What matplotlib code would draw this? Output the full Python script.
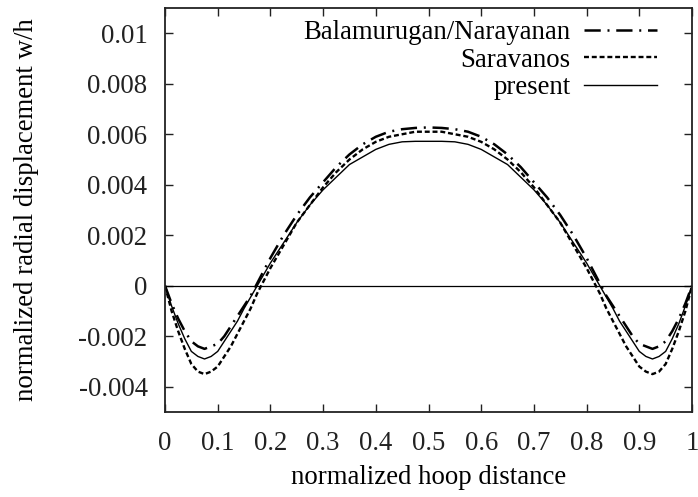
import matplotlib
matplotlib.use("Agg")
import matplotlib.pyplot as plt

plt.rcParams['font.family'] = ['Liberation Serif', 'DejaVu Serif']
plt.rcParams['axes.unicode_minus'] = False

s = [0.0, 0.0125, 0.025, 0.0375, 0.05, 0.0625, 0.075, 0.0875, 0.1, 0.1125, 0.125, 0.1375, 0.15,
     0.1625, 0.175, 0.1875, 0.2, 0.225, 0.25, 0.275, 0.3, 0.325, 0.35, 0.375, 0.4, 0.425, 0.45,
     0.475, 0.5,
     0.525, 0.55, 0.575, 0.6, 0.625, 0.65, 0.675, 0.7, 0.725, 0.75, 0.775, 0.8, 0.8125, 0.825,
     0.8375, 0.85, 0.8625, 0.875, 0.8875, 0.9, 0.9125, 0.925, 0.9375, 0.95, 0.9625, 0.975,
     0.9875, 1.0]

balamurugan = [0.0, -0.0007, -0.0013, -0.0018, -0.0022, -0.0024, -0.0025, -0.0024, -0.0023, -0.0020,
               -0.0016, -0.0012, -0.0008, -0.0004, 0.0001, 0.0006, 0.0011, 0.0020, 0.0028, 0.0035,
               0.0041, 0.0047, 0.0052, 0.0056, 0.0059, 0.0061, 0.0062, 0.00625, 0.00627,
               0.00625, 0.0062, 0.0061, 0.0059, 0.0056, 0.0052, 0.0047, 0.0041, 0.0035, 0.0028,
               0.0020, 0.0011, 0.0006, 0.0001, -0.0004, -0.0008, -0.0012, -0.0016, -0.0020, -0.0023,
               -0.0024, -0.0025, -0.0024, -0.0022, -0.0018, -0.0013, -0.0007, 0.0]
saravanos = [0.0, -0.0010, -0.0018, -0.0025, -0.0031, -0.0034, -0.0035, -0.0034, -0.0032, -0.0028,
             -0.0024, -0.0019, -0.0014, -0.0009, -0.0003, 0.0002, 0.0007, 0.0016, 0.0025, 0.0032,
             0.0039, 0.0045, 0.0050, 0.0054, 0.0057, 0.0059, 0.0060, 0.0061, 0.0061,
             0.0061, 0.0060, 0.0059, 0.0057, 0.0054, 0.0050, 0.0045, 0.0039, 0.0032, 0.0025,
             0.0016, 0.0007, 0.0002, -0.0003, -0.0009, -0.0014, -0.0019, -0.0024, -0.0028, -0.0032,
             -0.0034, -0.0035, -0.0034, -0.0031, -0.0025, -0.0018, -0.0010, 0.0]
present = [0.0, -0.0008, -0.0015, -0.0021, -0.0026, -0.0028, -0.0029, -0.0028, -0.0026, -0.0022,
           -0.0018, -0.0014, -0.0009, -0.00045, 0.0, 0.00045, 0.0009, 0.0017, 0.0025, 0.0032,
           0.0038, 0.0043, 0.0048, 0.0051, 0.0054, 0.0056, 0.0057, 0.00572, 0.00572,
           0.00572, 0.0057, 0.0056, 0.0054, 0.0051, 0.0048, 0.0043, 0.0038, 0.0032, 0.0025,
           0.0017, 0.0009, 0.00045, 0.0, -0.00045, -0.0009, -0.0014, -0.0018, -0.0022, -0.0026,
           -0.0028, -0.0029, -0.0028, -0.0026, -0.0021, -0.0015, -0.0008, 0.0]

xticks = [0.0, 0.1, 0.2, 0.3, 0.4, 0.5, 0.6, 0.7, 0.8, 0.9, 1.0]
xticklabels = ['0', '0.1', '0.2', '0.3', '0.4', '0.5', '0.6', '0.7', '0.8', '0.9', '1']
yticks = [-0.004, -0.002, 0.0, 0.002, 0.004, 0.006, 0.008, 0.01]
yticklabels = ['-0.004', '-0.002', '0', '0.002', '0.004', '0.006', '0.008', '0.01']

FS = 19.3

fig = plt.figure(figsize=(6.98, 4.97), dpi=100)
ax = fig.add_axes([165/698, 1-412/497, (692-165)/698, (412-8)/497])

ax.axhline(0, color='black', lw=0.9)
ax.plot(s, balamurugan, color='black', lw=1.8, dashes=[6.5, 2.7, 0.8, 2.7], label='Balamurugan/Narayanan')
ax.plot(s, saravanos, color='black', lw=1.7, dashes=[2.1, 1.2], label='Saravanos')
ax.plot(s, present, color='black', lw=1.0, label='present')

ax.set_xlim(0, 1)
ax.set_ylim(-0.005, 0.011)
ax.set_xticks(xticks)
ax.set_xticklabels(xticklabels)
ax.set_yticks(yticks)
ax.set_yticklabels(yticklabels)
ax.tick_params(direction='in', length=6, width=1, top=True, right=True, labelsize=FS, colors='#222222')
ax.tick_params(axis='x', pad=13.5)
ax.tick_params(axis='y', pad=12.6)
for sp in ax.spines.values():
    sp.set_linewidth(1.3)
    sp.set_color('#222222')

ax.set_xlabel('normalized hoop distance', fontsize=FS, labelpad=6.5)
ax.set_ylabel('normalized radial displacement w/h', fontsize=FS, labelpad=28)

leg = ax.legend(loc='upper right', frameon=False, markerfirst=False, fontsize=FS,
                handlelength=2.75, handletextpad=0.5, labelspacing=0.1,
                borderaxespad=0.3, bbox_to_anchor=(0.97, 1.017))
for t in leg.get_texts():
    t.set_ha('right')

fig.savefig('out.png', dpi=100)
